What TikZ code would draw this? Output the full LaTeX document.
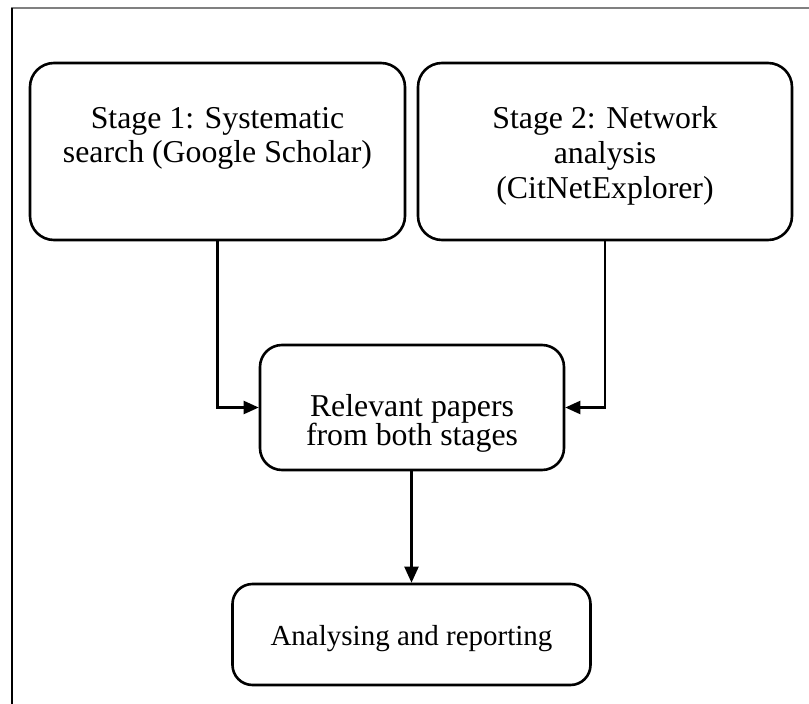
\documentclass[tikz,border=0pt]{standalone}
\usepackage{fontspec}
\setmainfont{Liberation Serif}
\usetikzlibrary{arrows.meta}
\begin{document}
\begin{tikzpicture}[x=1pt,y=-1pt,
  box/.style={draw,line width=2.6pt,rounded corners=#1,inner sep=0pt,minimum width=0pt},
  box/.default=24pt,
  txt/.style={anchor=base,inner sep=0pt,font=\fontsize{31.8}{35}\selectfont},
  txtsmall/.style={anchor=base,inner sep=0pt,font=\fontsize{29}{33}\selectfont},
  arr/.style={line width=2.2pt,-{Triangle[length=15pt,width=13pt]}}]
\useasboundingbox (0,0) rectangle (809,704);
% page frame
\draw[line width=1.5pt,gray] (11,8) -- (809,8);
\draw[line width=2pt,black] (11.5,7.5) -- (11.5,704);

% boxes
\node[box,minimum width=375pt,minimum height=177pt] (b1) at (217.5,151.5) {};
\node[box,minimum width=374pt,minimum height=177pt] (b2) at (605,151.5) {};
\node[box=22pt,minimum width=304pt,minimum height=125pt] (b3) at (412,407.5) {};
\node[box=20pt,minimum width=358pt,minimum height=101pt] (b4) at (411.5,634.5) {};

% labels
\node[txt] (t1a) at (217.5,128) {Stage 1: Systematic};
\node[txt] (t1b) at (217.5,162) {search (Google Scholar)};
\node[txt] (t2a) at (605,128) {Stage 2: Network};
\node[txt] (t2b) at (605,163) {analysis};
\node[txt] (t2c) at (605,198) {(CitNetExplorer)};
\node[txt] (t3a) at (412,416) {Relevant papers};
\node[txt] (t3b) at (412,445) {from both stages};
\node[txtsmall] (t4) at (411.5,645) {Analysing and reporting};

% connectors
\draw[arr] (b1.south) |- (b3.west);
\draw[arr] (b2.south) |- (b3.east);
\draw[arr,-{Triangle[length=16pt,width=14pt]}] (b3.south -| b4.north) -- (b4.north);
\end{tikzpicture}
\end{document}
